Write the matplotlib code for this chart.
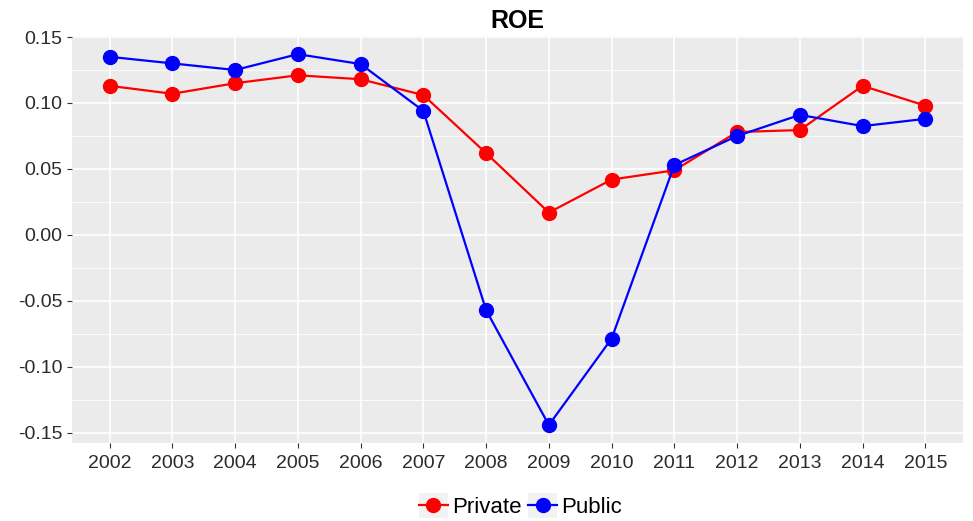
import matplotlib
matplotlib.use("Agg")
import matplotlib.pyplot as plt
from matplotlib.legend_handler import HandlerLine2D
from matplotlib.patches import Rectangle
from matplotlib.ticker import MultipleLocator

# 数据
years = [2002, 2003, 2004, 2005, 2006, 2007, 2008, 2009, 2010, 2011, 2012, 2013, 2014, 2015]
private = [0.113, 0.107, 0.115, 0.121, 0.118, 0.106, 0.062, 0.017, 0.042, 0.049, 0.078, 0.0795, 0.113, 0.098]
public = [0.135, 0.130, 0.125, 0.137, 0.1295, 0.094, -0.057, -0.144, -0.0785, 0.053, 0.075, 0.091, 0.0825, 0.088]
y_ticks = [-0.15, -0.10, -0.05, 0.00, 0.05, 0.10, 0.15]

plt.rcParams['font.family'] = ['Liberation Sans', 'DejaVu Sans']


class KeyHandler(HandlerLine2D):
    # ggplot风格的图例键：灰色底块
    def create_artists(self, legend, orig_handle, xdescent, ydescent, width, height, fontsize, trans):
        bg = Rectangle((-xdescent, -ydescent - 0.3 * height), width, height * 1.6,
                       facecolor='#F2F2F2', edgecolor='none', transform=trans)
        arts = super().create_artists(legend, orig_handle, xdescent, ydescent, width, height, fontsize, trans)
        return [bg] + list(arts)


fig = plt.figure(figsize=(9.73, 5.21), dpi=100)
ax = fig.add_axes([0.074, 0.1497, 0.9157, 0.7813])
ax.set_facecolor('#EBEBEB')

l1, = ax.plot(years, private, color='#FF0000', lw=1.6, marker='o', markersize=10, label='Private', zorder=3)
l2, = ax.plot(years, public, color='#0000FF', lw=1.6, marker='o', markersize=10, label='Public', zorder=4)

ax.set_xlim(2001.4, 2015.6)
ax.set_ylim(-0.1576, 0.1508)
ax.set_xticks(years)
ax.set_xticklabels([str(y) for y in years])
ax.set_yticks(y_ticks)
ax.set_yticklabels([f'{v:.2f}' for v in y_ticks])
ax.yaxis.set_minor_locator(MultipleLocator(0.025))

ax.grid(True, which='major', color='white', lw=1.2)
ax.grid(True, which='minor', axis='y', color='white', lw=0.6)
ax.set_axisbelow(True)
for s in ax.spines.values():
    s.set_visible(False)
ax.tick_params(axis='both', which='major', labelsize=14, labelcolor='#2B2B2B',
               color='#333333', length=3.5, width=0.8)
ax.tick_params(axis='y', which='minor', length=0)
ax.tick_params(axis='x', pad=5)

ax.set_title('ROE', fontsize=18, fontweight='bold', pad=6)

fig.legend(handles=[l1, l2], loc='lower center', bbox_to_anchor=(0.535, -0.033), ncol=2,
           frameon=False, fontsize=16, handlelength=1.3, handletextpad=0.2,
           columnspacing=0.3, handler_map={matplotlib.lines.Line2D: KeyHandler(numpoints=1)})

fig.savefig('out.png', dpi=100)
